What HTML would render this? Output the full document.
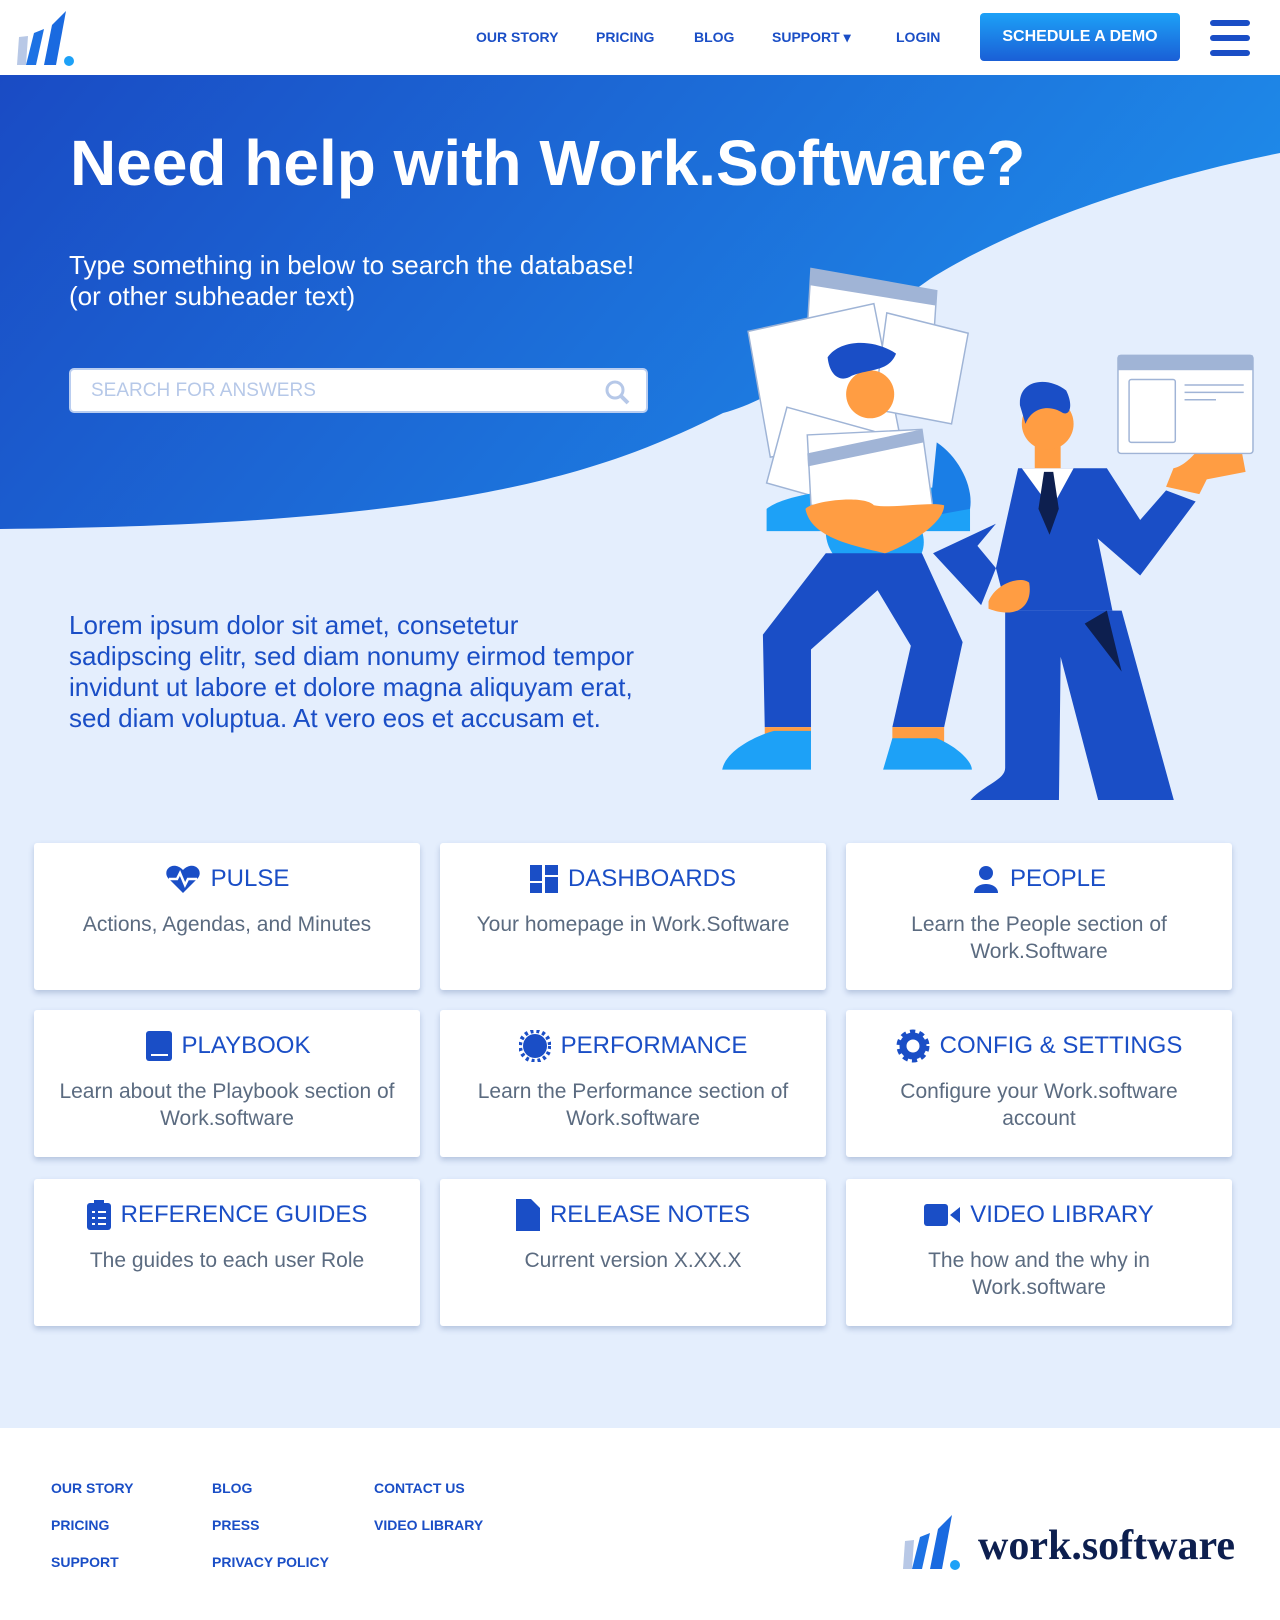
<!DOCTYPE html>
<html><head><meta charset="utf-8"><style>
*{margin:0;padding:0;box-sizing:border-box}
body{width:1280px;height:1620px;position:relative;background:#e4eefd;font-family:"Liberation Sans",sans-serif;overflow:hidden}
.hdr{position:absolute;left:0;top:0;width:1280px;height:75px;background:#fff}
.nav{position:absolute;top:29px;font-size:14px;color:#1a4ec6;font-weight:bold}
.btn{position:absolute;left:980px;top:13px;width:200px;height:48px;border-radius:4px;background:linear-gradient(#1da1f7,#1a5fd6);color:#fff;font-weight:bold;font-size:16px;text-align:center;line-height:48px}
.ham{position:absolute;left:1210px;width:40px;height:6px;border-radius:3px;background:#1a4ec6}
h1{position:absolute;left:70px;top:126px;font-size:64px;color:#fff;font-weight:bold;white-space:nowrap}
.sub{position:absolute;left:69px;top:250px;font-size:26px;color:#fff;line-height:31px}
.search{position:absolute;left:69px;top:368px;width:579px;height:45px;background:#fff;border:2px solid #b9cdf0;border-radius:5px;color:#b6c8e8;font-size:19px;line-height:41px;padding-left:20px}
.lorem{position:absolute;left:69px;top:610px;font-size:26px;line-height:31px;color:#1a4ec6}
.card{position:absolute;width:386px;height:147px;background:#fff;border-radius:3px;box-shadow:0 3px 6px rgba(40,70,130,.25);text-align:center}
.card .t{margin-top:20px;font-size:24px;color:#1a4ec6;display:flex;justify-content:center;align-items:center;gap:10px;height:32px}
.card .d{margin-top:16px;font-size:21px;line-height:27px;color:#5b6b80;padding:0 20px}
.foot{position:absolute;left:0;top:1428px;width:1280px;height:192px;background:#fff}
.fl{position:absolute;font-size:14px;font-weight:bold;color:#1a4ec6}
</style></head><body>
<svg style="position:absolute;left:0;top:75px" width="1280" height="460">
<defs><linearGradient id="g" x1="0" y1="0" x2="1" y2="0.3"><stop offset="0" stop-color="#1a4bc4"/><stop offset="1" stop-color="#1e8ae9"/></linearGradient></defs>
<path d="M0 0H1280V78C1120 110 1000 160 930 204C850 260 790 320 723 338C600 400 450 450 0 454Z" fill="url(#g)"/>
</svg>
<div class="hdr">
<svg style="position:absolute;left:14px;top:9px" width="70" height="58"><path d="M5 28L14 27 12 56 3 56Z" fill="#b8c8e6"/><path d="M20 24L30 20 22 56 12 56Z" fill="#1d72e4"/><path d="M38 16L52 2 42 56 30 56Z" fill="#1a6ae0"/><circle cx="55" cy="52" r="5" fill="#1da1f7"/></svg>
<div class="nav" style="left:476px">OUR STORY</div>
<div class="nav" style="left:596px">PRICING</div>
<div class="nav" style="left:694px">BLOG</div>
<div class="nav" style="left:772px">SUPPORT ▾</div>
<div class="nav" style="left:896px">LOGIN</div>
<div class="btn">SCHEDULE A DEMO</div>
<div class="ham" style="top:20px"></div><div class="ham" style="top:35px"></div><div class="ham" style="top:50px"></div>
</div>
<h1>Need help with Work.Software?</h1>
<div class="sub">Type something in below to search the database!<br>(or other subheader text)</div>
<div class="search">SEARCH FOR ANSWERS<svg style="position:absolute;right:16px;top:9px" width="26" height="26"><circle cx="11" cy="11" r="8" stroke="#b6c8e8" stroke-width="3" fill="none"/><path d="M17 17L24 24" stroke="#b6c8e8" stroke-width="4"/></svg></div>
<div class="lorem">Lorem ipsum dolor sit amet, consetetur<br>sadipscing elitr, sed diam nonumy eirmod tempor<br>invidunt ut labore et dolore magna aliquyam erat,<br>sed diam voluptua. At vero eos et accusam et.</div>
<svg style="position:absolute;left:700px;top:250px" width="580" height="550" viewBox="0 0 1568 1487">
<g stroke="#9fb4d6" stroke-width="4" fill="#fff">
<path d="M300 50L640 110 620 420 280 380Z"/><path d="M130 220L470 145 540 500 190 560Z"/><path d="M505 170L725 225 680 470 470 430Z"/><path d="M235 425L470 490 430 700 180 630Z"/></g>
<path d="M300 50L640 110 636 150 296 95Z" fill="#a0b4d6"/>
<path d="M180 700C250 640 600 620 730 660L730 760 180 760Z" fill="#1da1f7"/>
<path d="M640 520C700 560 740 640 730 700L620 720Z" fill="#1a7ee6"/>
<path d="M340 760C340 840 420 880 480 880C580 880 620 820 600 760Z" fill="#1da1f7"/>
<path d="M340 820L600 820 710 1060 660 1290 520 1290 570 1070 480 920 300 1080 300 1290 175 1290 170 1040Z" fill="#1a4ec6"/>
<path d="M175 1290H300V1330H175ZM520 1290H660V1330H520Z" fill="#ff9d43"/>
<path d="M60 1405C70 1350 160 1310 200 1300L300 1300 300 1405ZM495 1405L520 1320 640 1320C690 1340 735 1380 735 1405Z" fill="#1da1f7"/>
<circle cx="460" cy="390" r="65" fill="#ff9d43"/>
<path d="M345 290C380 240 470 240 530 280 510 330 460 320 410 340 380 360 350 340 345 290Z" fill="#1a4ec6"/>
<path d="M290 500L600 485 630 700 300 690Z" fill="#fff" stroke="#9fb4d6" stroke-width="4"/><path d="M290 550L600 485 605 520 292 585Z" fill="#a0b4d6"/>
<path d="M285 700C300 680 440 660 470 690 520 700 620 680 660 690 660 740 560 800 500 820 420 800 300 780 285 700Z" fill="#ff9d43"/>
<path d="M860 590L1100 590 1190 730 1260 650 1340 680 1190 880 1075 780 1115 975 830 975 800 860 750 800 800 740 630 820 760 960 800 860Z" fill="#1a4ec6"/>
<path d="M825 975L1140 975 1290 1520 1085 1520 975 1100 970 1520 710 1520C740 1450 825 1440 825 1400Z" fill="#1a4ec6"/>
<path d="M1100 975L1140 1140 1040 1010Z" fill="#0d1f4f"/>
<path d="M870 590L1010 590 950 700Z" fill="#fff"/><path d="M930 600L955 600 970 700 945 770 915 700Z" fill="#0d1f4f"/>
<path d="M780 950C800 900 870 880 890 900 900 960 860 1000 780 970Z" fill="#ff9d43"/>
<path d="M1260 640L1280 590C1330 580 1370 500 1380 510L1410 500 1440 510 1460 520 1475 600 1370 620 1350 660Z" fill="#ff9d43"/>
<rect x="905" y="520" width="70" height="70" fill="#ff9d43"/>
<circle cx="940" cy="470" r="70" fill="#ff9d43"/>
<path d="M865 420C860 350 940 340 990 380 1010 420 1000 450 980 440 950 420 900 420 880 470Z" fill="#1a4ec6"/>
<rect x="1130" y="285" width="365" height="265" rx="8" fill="#fff" stroke="#a0b4d6" stroke-width="4"/><rect x="1130" y="285" width="365" height="40" fill="#a0b4d6"/>
<rect x="1160" y="350" width="125" height="170" rx="6" fill="none" stroke="#a0b4d6" stroke-width="4"/>
<path d="M1310 365H1470M1310 385H1470M1310 405H1395" stroke="#a0b4d6" stroke-width="4"/>
</svg>
<div class="card" style="left:34px;top:843px"><div class="t"><svg width="36" height="30"><path d="M18 29L3 14C-3 6 8-4 18 6 28-4 39 6 33 14Z" fill="#1a4ec6"/><path d="M4 15H12L15 9 20 21 23 15H32" stroke="#fff" stroke-width="2.5" fill="none"/></svg>PULSE</div><div class="d">Actions, Agendas, and Minutes</div></div>
<div class="card" style="left:440px;top:843px"><div class="t"><svg width="28" height="28"><rect width="12" height="16" fill="#1a4ec6"/><rect y="18" width="12" height="10" fill="#1a4ec6"/><rect x="15" width="13" height="10" fill="#1a4ec6"/><rect x="15" y="12" width="13" height="16" fill="#1a4ec6"/></svg>DASHBOARDS</div><div class="d">Your homepage in Work.Software</div></div>
<div class="card" style="left:846px;top:843px"><div class="t"><svg width="28" height="28"><circle cx="14" cy="8" r="7" fill="#1a4ec6"/><path d="M2 28C2 16 26 16 26 28Z" fill="#1a4ec6"/></svg>PEOPLE</div><div class="d">Learn the People section of Work.Software</div></div>
<div class="card" style="left:34px;top:1010px"><div class="t"><svg width="28" height="30"><rect x="2" width="26" height="30" rx="3" fill="#1a4ec6"/><path d="M7 24H24" stroke="#fff" stroke-width="2"/></svg>PLAYBOOK</div><div class="d">Learn about the Playbook section of Work.software</div></div>
<div class="card" style="left:440px;top:1010px"><div class="t"><svg width="32" height="32"><circle cx="16" cy="16" r="12" fill="#1a4ec6"/><circle cx="16" cy="16" r="15" fill="none" stroke="#1a4ec6" stroke-width="4" stroke-dasharray="3 3"/></svg>PERFORMANCE</div><div class="d">Learn the Performance section of Work.software</div></div>
<div class="card" style="left:846px;top:1010px"><div class="t"><svg width="34" height="34"><circle cx="17" cy="17" r="10" fill="none" stroke="#1a4ec6" stroke-width="7"/><circle cx="17" cy="17" r="14" fill="none" stroke="#1a4ec6" stroke-width="5" stroke-dasharray="5 4"/></svg>CONFIG &amp; SETTINGS</div><div class="d">Configure your Work.software account</div></div>
<div class="card" style="left:34px;top:1179px"><div class="t"><svg width="24" height="30"><rect y="3" width="24" height="27" rx="3" fill="#1a4ec6"/><rect x="7" width="10" height="6" fill="#1a4ec6"/><path d="M5 12H8M11 12H19M5 18H8M11 18H19M5 24H8M11 24H19" stroke="#fff" stroke-width="2"/></svg>REFERENCE GUIDES</div><div class="d">The guides to each user Role</div></div>
<div class="card" style="left:440px;top:1179px"><div class="t"><svg width="24" height="32"><path d="M0 0H15L24 9V32H0Z" fill="#1a4ec6"/></svg>RELEASE NOTES</div><div class="d">Current version X.XX.X</div></div>
<div class="card" style="left:846px;top:1179px"><div class="t"><svg width="36" height="26"><rect y="2" width="24" height="22" rx="3" fill="#1a4ec6"/><path d="M26 13L36 5V21Z" fill="#1a4ec6"/></svg>VIDEO LIBRARY</div><div class="d">The how and the why in Work.software</div></div>
<div class="foot">
<div class="fl" style="left:51px;top:52px">OUR STORY</div><div class="fl" style="left:51px;top:89px">PRICING</div><div class="fl" style="left:51px;top:126px">SUPPORT</div>
<div class="fl" style="left:212px;top:52px">BLOG</div><div class="fl" style="left:212px;top:89px">PRESS</div><div class="fl" style="left:212px;top:126px">PRIVACY POLICY</div>
<div class="fl" style="left:374px;top:52px">CONTACT US</div><div class="fl" style="left:374px;top:89px">VIDEO LIBRARY</div>
<svg style="position:absolute;left:900px;top:85px" width="70" height="58"><path d="M5 28L14 27 12 56 3 56Z" fill="#b8c8e6"/><path d="M20 24L30 20 22 56 12 56Z" fill="#1d72e4"/><path d="M38 16L52 2 42 56 30 56Z" fill="#1a6ae0"/><circle cx="55" cy="52" r="5" fill="#1da1f7"/></svg>
<div style="position:absolute;left:978px;top:94px;font-family:'Liberation Serif',serif;font-weight:bold;font-size:42px;color:#0d1f4f">work.software</div>
</div>
</body></html>
